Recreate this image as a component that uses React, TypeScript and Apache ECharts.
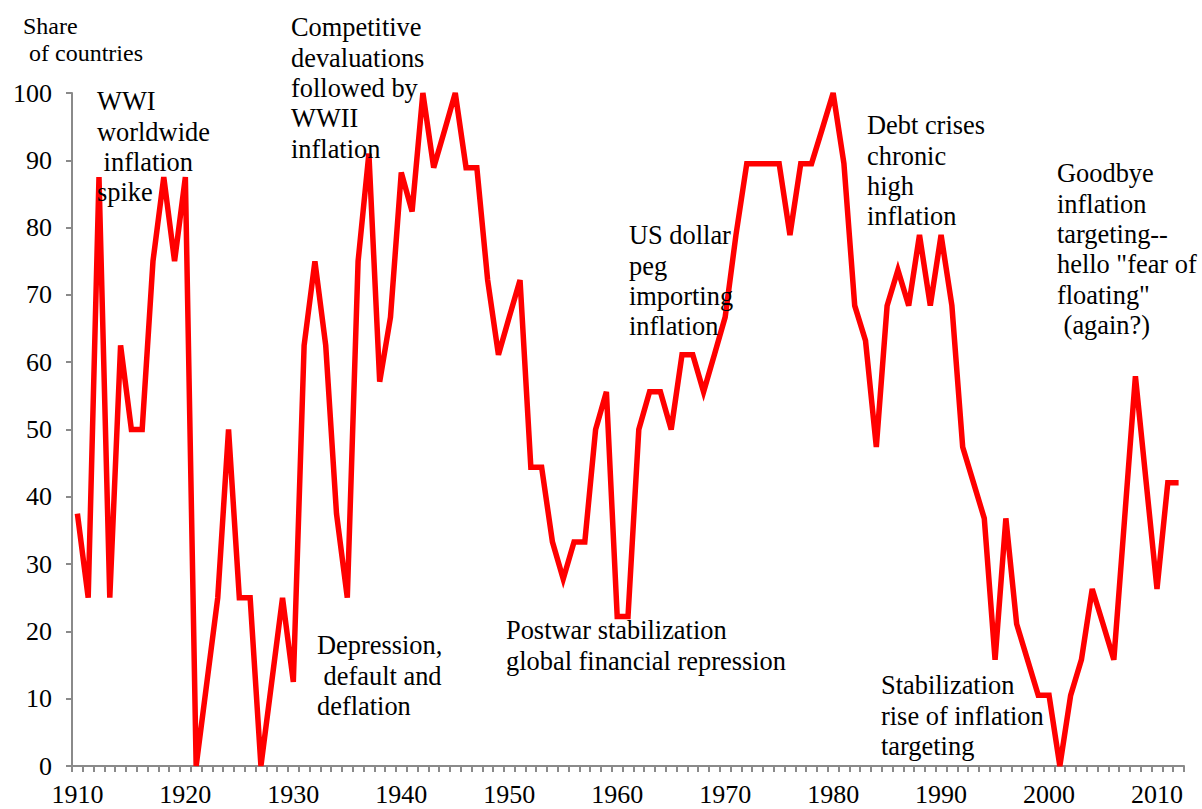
import React, { useEffect, useRef } from "react";
import * as echarts from "echarts";

const years: string[] = [];
for (let y = 1910; y <= 2012; y++) years.push(String(y));

const shareValues: number[] = [
  37.5, 25, 87.5, 25, 62.5, 50, 50, 75, 87.5, 75, // 1910-1919
  87.5, 0, 12.5, 25, 50, 25, 25, 0, 12.5, 25, // 1920-1929
  12.5, 62.5, 75, 62.5, 37.5, 25, 75, 91, 57.1, 66.7, // 1930-1939
  88.2, 82.4, 100, 88.9, 94.4, 100, 88.9, 88.9, 72.2, 61.1, // 1940-1949
  66.7, 72.2, 44.4, 44.4, 33.3, 27.8, 33.3, 33.3, 50, 55.6, // 1950-1959
  22.2, 22.2, 50, 55.6, 55.6, 50, 61.1, 61.1, 55.6, 61.1, // 1960-1969
  66.7, 78.9, 89.5, 89.5, 89.5, 89.5, 78.9, 89.5, 89.5, 94.7, // 1970-1979
  100, 89.5, 68.4, 63.2, 47.4, 68.4, 73.7, 68.4, 78.9, 68.4, // 1980-1989
  78.9, 68.4, 47.4, 42.1, 36.8, 15.8, 36.8, 21.1, 15.8, 10.5, // 1990-1999
  10.5, 0, 10.5, 15.8, 26.3, 21.1, 15.8, 36.8, 57.9, 42.1, // 2000-2009
  26.3, 42.1, 42.1, // 2010-2012
];

const yTicks = { min: 0, max: 100, interval: 10 };

const annotations: { text: string; x: number; y: number }[] = [
  { text: "WWI\nworldwide\n inflation\nspike", x: 97, y: 86 },
  { text: "Competitive\ndevaluations\nfollowed by\nWWII\ninflation", x: 291, y: 12 },
  { text: "Depression,\n default and\ndeflation", x: 317, y: 630 },
  { text: "Postwar stabilization\nglobal financial repression", x: 506, y: 615 },
  { text: "US dollar\npeg\nimporting\ninflation", x: 629, y: 220 },
  { text: "Debt crises\nchronic\nhigh\ninflation", x: 867, y: 110 },
  { text: "Stabilization\nrise of inflation\ntargeting", x: 881, y: 670 },
  { text: 'Goodbye\ninflation\ntargeting--\nhello "fear of\nfloating"\n (again?)', x: 1057, y: 158 },
];

const SERIF = "'Liberation Serif', 'Times New Roman', Times, serif";

export default function App() {
  const ref = useRef<HTMLDivElement>(null);

  useEffect(() => {
    document.body.style.margin = "0";
    if (!ref.current) return;
    const chart = echarts.init(ref.current, undefined, { renderer: "svg" });
    const graphics: any[] = annotations.map((a) => ({
      type: "text",
      x: a.x,
      y: a.y,
      z: 10,
      style: {
        text: a.text,
        font: `26.4px ${SERIF}`,
        fill: "#000",
        lineHeight: 30.4,
        align: "left",
        verticalAlign: "top",
      },
    }));
    graphics.push({
      type: "text",
      x: 23,
      y: 12,
      z: 10,
      style: {
        text: "Share\n of countries",
        font: `24px ${SERIF}`,
        fill: "#000",
        lineHeight: 27,
        align: "left",
        verticalAlign: "top",
      },
    });
    chart.setOption({
      animation: false,
      backgroundColor: "#fff",
      textStyle: { fontFamily: SERIF },
      grid: { left: 72, right: 18, top: 93, bottom: 43, containLabel: false },
      xAxis: {
        type: "category",
        data: years,
        boundaryGap: true,
        axisLine: { lineStyle: { color: "#8a8a8a", width: 2 } },
        axisTick: {
          show: true,
          interval: 0,
          length: 6,
          inside: false,
          lineStyle: { color: "#8a8a8a", width: 2 },
        },
        axisLabel: {
          interval: (_i: number, v: string) => Number(v) % 10 === 0,
          color: "#000",
          fontFamily: SERIF,
          fontSize: 26,
          margin: 15,
        },
        splitLine: { show: false },
      },
      yAxis: {
        type: "value",
        min: yTicks.min,
        max: yTicks.max,
        interval: yTicks.interval,
        axisLine: { show: true, lineStyle: { color: "#8a8a8a", width: 2 } },
        axisTick: { show: true, length: 6, lineStyle: { color: "#8a8a8a", width: 2 } },
        axisLabel: {
          color: "#000",
          fontFamily: SERIF,
          fontSize: 26,
          margin: 20,
        },
        splitLine: { show: false },
      },
      series: [
        {
          type: "line",
          data: shareValues,
          showSymbol: false,
          symbol: "none",
          clip: false,
          lineStyle: { color: "#ff0000", width: 5.5, join: "miter" },
          z: 3,
        },
      ],
      graphic: graphics,
    });
    return () => chart.dispose();
  }, []);

  return <div ref={ref} style={{ width: 1202, height: 809 }} />;
}
